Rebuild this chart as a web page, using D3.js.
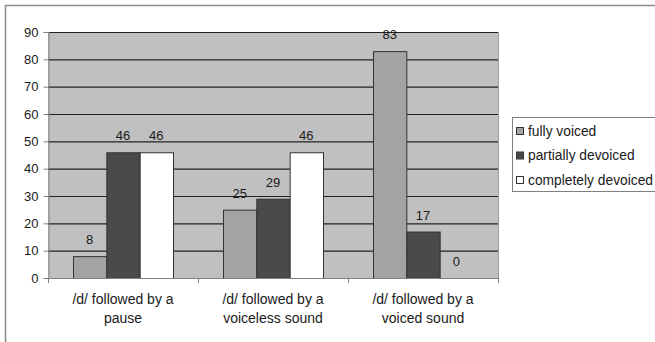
<!DOCTYPE html>
<html><head><meta charset="utf-8">
<script src="https://cdn.jsdelivr.net/npm/d3@7"></script>
<style>body{margin:0;background:#fff}svg{display:block;font-family:"Liberation Sans",Arial,sans-serif}</style>
</head><body>
<svg id="c" width="655" height="342"></svg>
<script>
const categories = [["/d/ followed by a","pause"],["/d/ followed by a","voiceless sound"],["/d/ followed by a","voiced sound"]];
const seriesNames = ["fully voiced","partially devoiced","completely devoiced"];
const fullyVoiced = [8,25,83];
const partiallyDevoiced = [46,29,17];
const completelyDevoiced = [46,46,0];
const yTicks = [0,10,20,30,40,50,60,70,80,90];
const colors = ["#a3a3a3","#4a4a4a","#ffffff"];
const seriesValues = [fullyVoiced, partiallyDevoiced, completelyDevoiced];

const svg = d3.select("#c");
const m = {l:48, t:32, r:498, b:278};
// outer frame
svg.append("rect").attr("x",5.5).attr("y",5.5).attr("width",660).attr("height",350)
  .attr("fill","#fff").attr("stroke","#8c8c8c").attr("stroke-width",1.5);

const x0 = d3.scaleBand().domain(d3.range(3)).range([m.l,m.r]).paddingInner(1/3).paddingOuter(1/6);
const x1 = d3.scaleBand().domain(d3.range(3)).range([0,x0.bandwidth()]);
const y = d3.scaleLinear().domain([0,90]).range([m.b,m.t]);

svg.append("rect").attr("x",m.l).attr("y",m.t).attr("width",m.r-m.l).attr("height",m.b-m.t).attr("fill","#c0c0c0");
// gridlines
svg.append("g").selectAll("line").data(yTicks.filter(d=>d>0)).join("line")
  .attr("x1",m.l).attr("x2",m.r).attr("y1",d=>y(d)+0.5).attr("y2",d=>y(d)+0.5)
  .attr("stroke","#222").attr("stroke-width",1.2);
svg.append("line").attr("x1",m.r+0.5).attr("x2",m.r+0.5).attr("y1",m.t).attr("y2",m.b).attr("stroke","#9a9a9a");

// bars
const g = svg.append("g");
seriesValues.forEach((vals,si)=>{
  g.selectAll(null).data(vals).join("rect")
    .attr("x",(d,i)=>x0(i)+x1(si)+0.5).attr("width",x1.bandwidth())
    .attr("y",d=>y(d)+0.5).attr("height",d=>y(0)-y(d))
    .attr("fill",colors[si]).attr("stroke",d=>d>0?"#333":"none").attr("stroke-width",1);
  g.selectAll(null).data(vals).join("text")
    .attr("x",(d,i)=>x0(i)+x1(si)+x1.bandwidth()/2).attr("y",d=>y(d)-12)
    .attr("text-anchor","middle").attr("font-size",13).attr("fill","#1a1a1a").text(d=>d);
});

// y axis
const ya = svg.append("g").attr("transform",`translate(${m.l+0.5},0)`)
  .call(d3.axisLeft(y).tickValues(yTicks).tickSize(5).tickPadding(5));
ya.select(".domain").attr("stroke","#808080");
ya.selectAll(".tick line").attr("stroke","#808080");
ya.selectAll("text").attr("font-size",13).attr("fill","#1a1a1a").attr("font-family","Liberation Sans, Arial, sans-serif");

// x axis
const xBounds = d3.scaleLinear().domain([0,3]).range([m.l,m.r]);
svg.append("line").attr("x1",m.l).attr("x2",m.r+1).attr("y1",m.b+0.5).attr("y2",m.b+0.5).attr("stroke","#808080");
svg.append("g").selectAll("line").data(d3.range(4)).join("line")
  .attr("x1",d=>xBounds(d)+0.5).attr("x2",d=>xBounds(d)+0.5).attr("y1",m.b).attr("y2",m.b+5).attr("stroke","#808080");
const cl = svg.append("g");
categories.forEach((c,i)=>{
  c.forEach((line,j)=>{
    cl.append("text").attr("x",x0(i)+x0.bandwidth()/2).attr("y",304+j*19)
      .attr("text-anchor","middle").attr("font-size",14).attr("fill","#1a1a1a").text(line);
  });
});

// legend
const lg = svg.append("g");
lg.append("rect").attr("x",512.5).attr("y",117.5).attr("width",160).attr("height",74)
  .attr("fill","#fff").attr("stroke","#808080");
seriesNames.forEach((s,i)=>{
  const yy = 131 + i*24.5;
  lg.append("rect").attr("x",516.5).attr("y",yy-3.5).attr("width",7).attr("height",7)
    .attr("fill",colors[i]).attr("stroke","#333");
  lg.append("text").attr("x",528).attr("y",yy+4.5).attr("font-size",13.8).attr("fill","#1a1a1a").text(s);
});
</script>
</body></html>
